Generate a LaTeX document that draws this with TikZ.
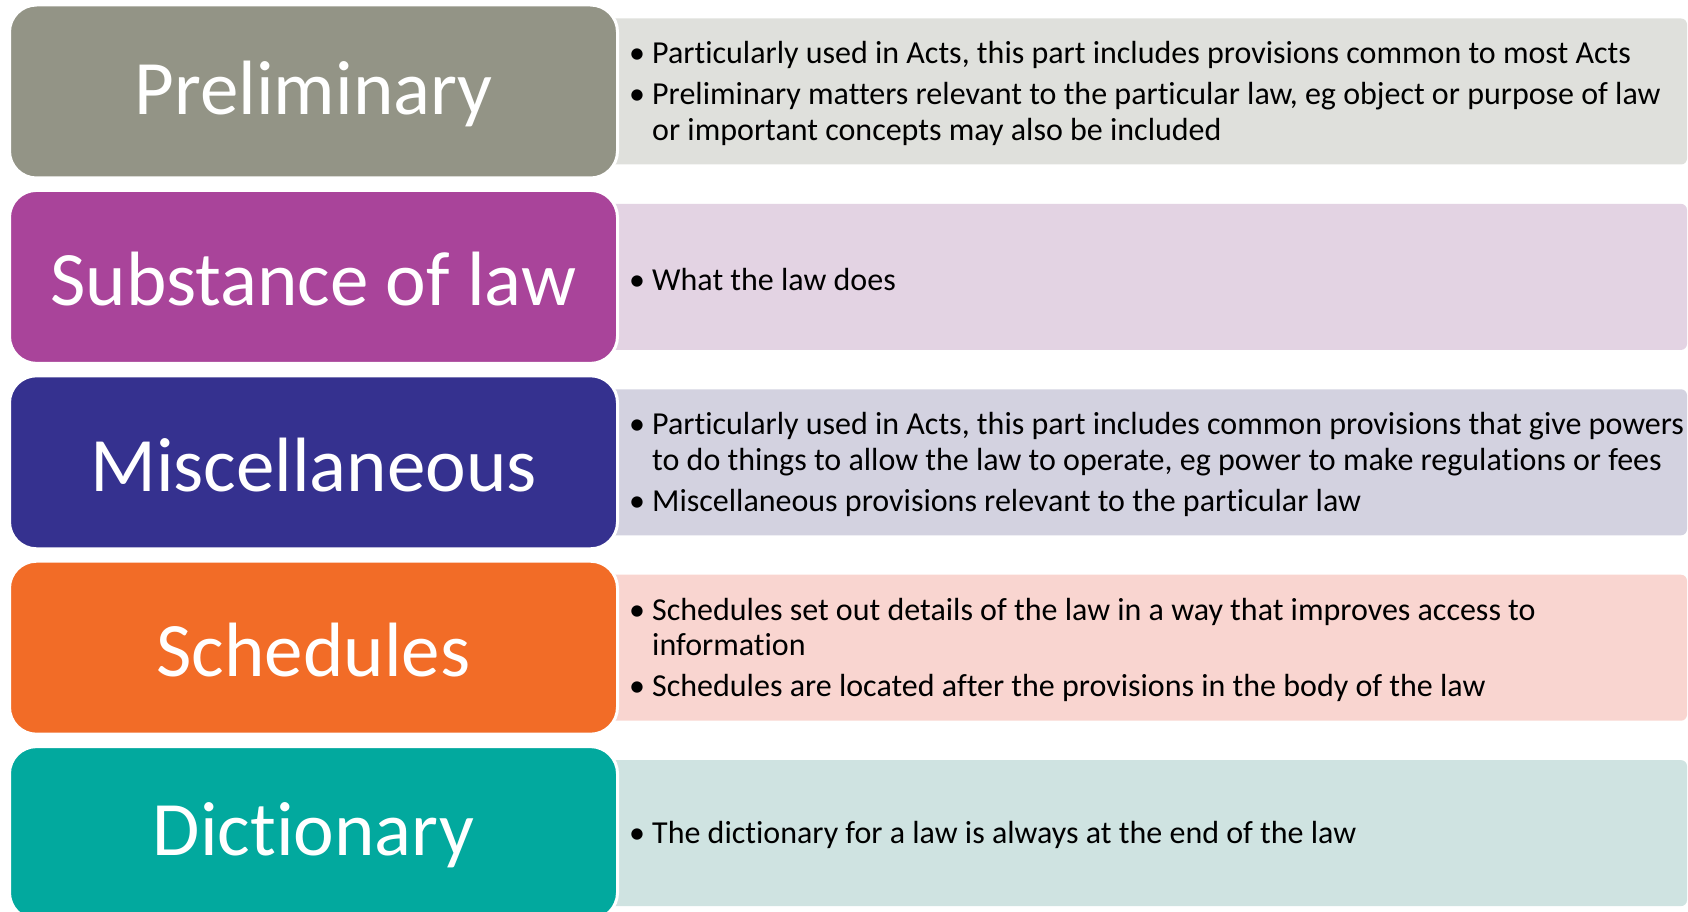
\documentclass[tikz,border=0pt]{standalone}
\usepackage{fontspec}
\setmainfont{Carlito}[Ligatures=NoCommon]
\definecolor{cPre}{HTML}{939486}
\definecolor{cPreL}{HTML}{DFE0DC}
\definecolor{cSub}{HTML}{A9449A}
\definecolor{cSubL}{HTML}{E3D3E3}
\definecolor{cMis}{HTML}{35318F}
\definecolor{cMisL}{HTML}{D3D2E0}
\definecolor{cSch}{HTML}{F26C27}
\definecolor{cSchL}{HTML}{F9D5D0}
\definecolor{cDic}{HTML}{02A99E}
\definecolor{cDicL}{HTML}{CFE3E1}
\newcommand\bitem[1]{\par\noindent\hangindent=23pt\hangafter=1\makebox[23pt][l]{\textbullet}#1\par}
\newcommand\nl{\hfil\break}
\newcommand\desctext[1]{\begin{minipage}{1070pt}\parindent=0pt\parskip=5.5pt\rightskip=0pt plus 1fil\fontsize{32}{35.5}\selectfont #1\end{minipage}}
\newcommand\ttl[1]{\raisebox{-2.5pt}[\height][\depth]{#1}}
\tikzset{
  titlebox/.style={draw=white, line width=3pt, rounded corners=27pt, minimum width=608pt, minimum height=173pt, inner sep=0pt, text=white, font=\fontsize{77}{80}\selectfont},
  descbox/.style={rounded corners=6pt, minimum width=1097pt, minimum height=146pt, inner sep=0pt},
  desc/.style={anchor=west, inner sep=0pt}
}
\begin{document}
\begin{tikzpicture}[x=1pt,y=-1pt]
\useasboundingbox (0,0) rectangle (1688,912);
% right description boxes
\node[descbox, fill=cPreL] (rPre) at (1138.5,91.5) {};
\node[descbox, fill=cSubL] (rSub) at (1138.5,276.9) {};
\node[descbox, fill=cMisL] (rMis) at (1138.5,462.3) {};
\node[descbox, fill=cSchL] (rSch) at (1138.5,647.7) {};
\node[descbox, fill=cDicL] (rDic) at (1138.5,833.1) {};
% left title boxes
\node[titlebox, fill=cPre] (tPre) at (313.5,91.5) {\ttl{Preliminary}};
\node[titlebox, fill=cSub] (tSub) at (313.5,276.9) {\ttl{Substance of law}};
\node[titlebox, fill=cMis] (tMis) at (313.5,462.3) {\ttl{Miscellaneous}};
\node[titlebox, fill=cSch] (tSch) at (313.5,647.7) {\ttl{Schedules}};
\node[titlebox, fill=cDic] (tDic) at (313.5,833.1) {\ttl{Dictionary}};
% texts
\node[desc] (dPre) at (629,93.7) {\desctext{%
\bitem{Particularly used in Acts, this part includes provisions common to most Acts}%
\bitem{Preliminary matters relevant to the particular law, eg object or purpose of law\nl or important concepts may also be included}}};
\node[desc] (dSub) at (629,279.1) {\desctext{%
\bitem{What the law does}}};
\node[desc] (dMis) at (629,464.5) {\desctext{%
\bitem{Particularly used in Acts, this part includes common provisions that give powers\nl to do things to allow the law to operate, eg power to make regulations or fees}%
\bitem{Miscellaneous provisions relevant to the particular law}}};
\node[desc] (dSch) at (629,649.9) {\desctext{%
\bitem{Schedules set out details of the law in a way that improves access to\nl information}%
\bitem{Schedules are located after the provisions in the body of the law}}};
\node[desc] (dDic) at (629,835.3) {\desctext{%
\bitem{The dictionary for a law is always at the end of the law}}};
\end{tikzpicture}
\end{document}
